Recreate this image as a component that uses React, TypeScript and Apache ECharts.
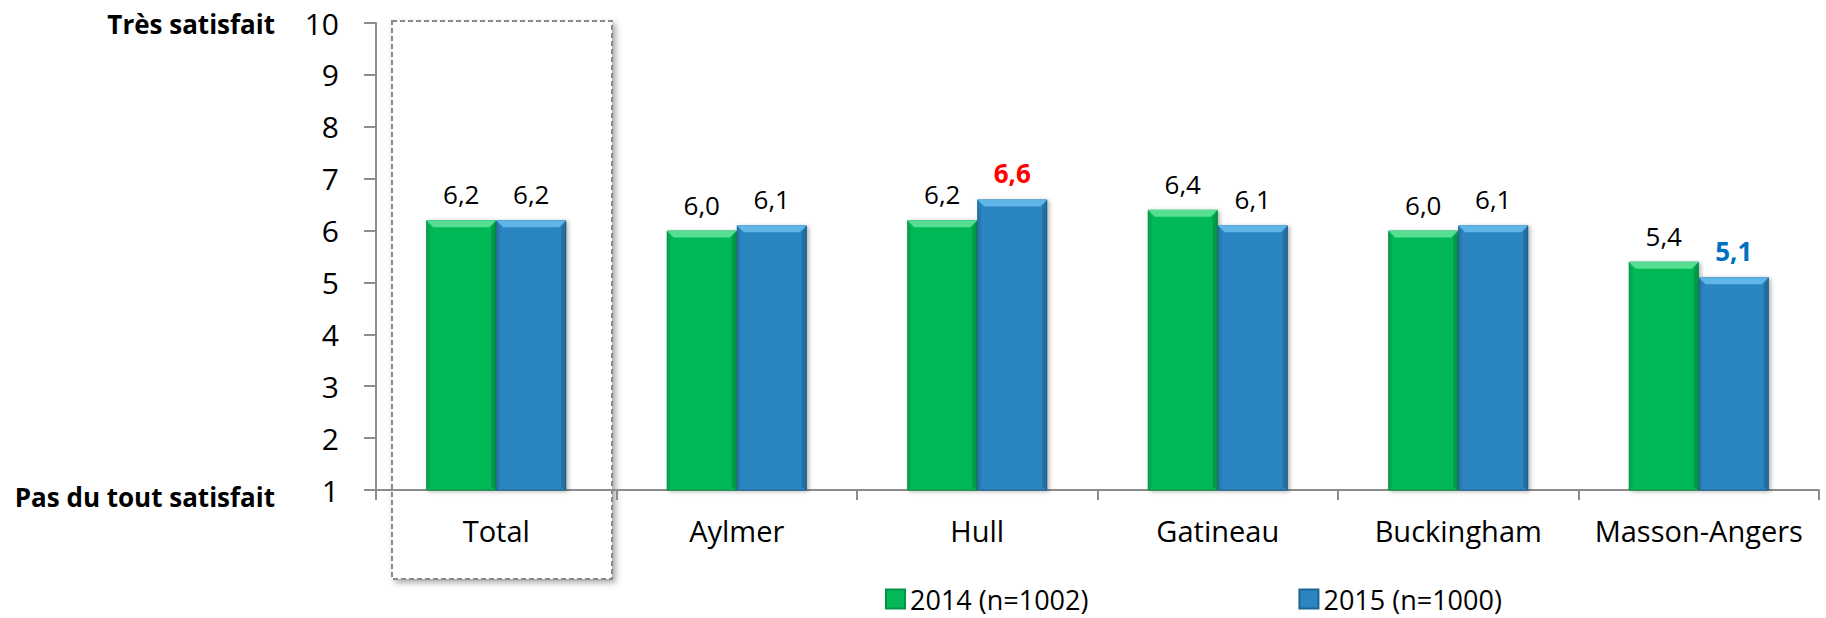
import React, { useEffect, useRef } from 'react';
import * as echarts from 'echarts';

// Satisfaction scores (1 = pas du tout satisfait, 10 = très satisfait)
const categories = ['Total', 'Aylmer', 'Hull', 'Gatineau', 'Buckingham', 'Masson-Angers'];
const values2014 = [6.2, 6.0, 6.2, 6.4, 6.0, 5.4];
const values2015 = [6.2, 6.1, 6.6, 6.1, 6.1, 5.1];
const seriesNames = ['2014 (n=1002)', '2015 (n=1000)'];
const yTicks = [1, 2, 3, 4, 5, 6, 7, 8, 9, 10];
const scaleTop = 'Très satisfait';
const scaleBottom = 'Pas du tout satisfait';
// 2015 labels shown in bold colour (category index -> colour)
const emphasis2015: Record<number, string> = { 2: '#FF0000', 5: '#0070C0' };

const FONT = "'Open Sans', 'Noto Sans', sans-serif";
const BAR_W = 70;
const Y_MIN = yTicks[0];
const Y_MAX = yTicks[yTicks.length - 1];

const palettes = [
  { base: '#06B957', border: '#049447', top: '#5FE39A' },
  { base: '#2A85C1', border: '#1D6496', top: '#66BDEB' },
];

const fmt = (v: number) => v.toFixed(1).replace('.', ',');

export default function App() {
  const ref = useRef<HTMLDivElement>(null);

  useEffect(() => {
    if (!ref.current) return;
    const chart = echarts.init(ref.current, undefined, { renderer: 'svg' });

    const bevelData: number[][] = [];
    [values2014, values2015].forEach((vals, s) => vals.forEach((v, i) => bevelData.push([i, v, s])));

    const barSeries = [values2014, values2015].map((vals, s) => ({
      name: seriesNames[s],
      type: 'bar',
      barWidth: BAR_W,
      barGap: '0%',
      z: 2,
      itemStyle: {
        color: palettes[s].base,
        borderColor: palettes[s].border,
        borderWidth: 1,
        shadowBlur: 4,
        shadowOffsetX: 2,
        shadowOffsetY: 1,
        shadowColor: 'rgba(0,0,0,0.3)',
      },
      label: {
        show: true,
        position: 'top',
        distance: 13,
        fontFamily: FONT,
        fontSize: 26,
        color: '#000',
        formatter: (p: any) => fmt(p.value),
      },
      data: vals.map((v, i) =>
        s === 1 && emphasis2015[i]
          ? { value: v, label: { color: emphasis2015[i], fontWeight: 'bold' } }
          : v
      ),
    }));

    const bevelSeries = {
      type: 'custom',
      z: 3,
      silent: true,
      renderItem: (_params: any, api: any) => {
        const cat = api.value(0);
        const val = api.value(1);
        const s = api.value(2);
        const top = api.coord([cat, val]);
        const base = api.coord([cat, Y_MIN]);
        const x0 = top[0] - BAR_W + s * BAR_W;
        const x1 = x0 + BAR_W;
        const y0 = top[1];
        const yb = base[1];
        const b = 7;
        return {
          type: 'group',
          children: [
            {
              type: 'polygon',
              shape: { points: [[x0, y0], [x1, y0], [x1 - b, y0 + b], [x0 + b, y0 + b]] },
              style: { fill: palettes[s].top, opacity: 0.9 },
            },
            {
              type: 'polygon',
              shape: { points: [[x1, y0], [x1, yb], [x1 - 5, yb - 3], [x1 - 5, y0 + b]] },
              style: { fill: 'rgba(0,0,0,0.16)' },
            },
            {
              type: 'polygon',
              shape: { points: [[x0, y0], [x0 + 4, y0 + b], [x0 + 4, yb - 3], [x0, yb]] },
              style: { fill: 'rgba(0,0,0,0.07)' },
            },
          ],
        };
      },
      data: bevelData,
    };

    chart.setOption({
      animation: false,
      backgroundColor: '#fff',
      textStyle: { fontFamily: FONT },
      grid: { left: 376, right: 7, top: 23, bottom: 128, containLabel: false },
      legend: {
        data: seriesNames,
        left: 885,
        top: 585,
        padding: 0,
        icon: 'rect',
        itemWidth: 19,
        itemHeight: 19,
        itemGap: 210,
        textStyle: { fontFamily: FONT, fontSize: 27, lineHeight: 28, color: '#000' },
      },
      xAxis: {
        type: 'category',
        data: categories,
        axisLine: { lineStyle: { color: '#8C8C8C', width: 2 } },
        axisTick: { show: true, length: 10, lineStyle: { color: '#8C8C8C', width: 2 } },
        axisLabel: { interval: 0, fontFamily: FONT, fontSize: 29, color: '#000', margin: 26 },
        splitLine: { show: false },
      },
      yAxis: {
        type: 'value',
        min: Y_MIN,
        max: Y_MAX,
        interval: 1,
        axisLine: { show: true, lineStyle: { color: '#8C8C8C', width: 2 } },
        axisTick: { show: true, length: 12, lineStyle: { color: '#8C8C8C', width: 2 } },
        axisLabel: { fontFamily: FONT, fontSize: 30, color: '#000', margin: 37 },
        splitLine: { show: false },
      },
      graphic: [
        {
          type: 'rect',
          z: -1,
          shape: { x: 392, y: 21, width: 220, height: 558 },
          style: {
            fill: '#fff',
            stroke: '#8A8A8A',
            lineWidth: 2,
            lineDash: [5, 3],
            shadowBlur: 6,
            shadowOffsetX: 3,
            shadowOffsetY: 3,
            shadowColor: 'rgba(0,0,0,0.35)',
          },
        },
        {
          type: 'text',
          x: 275,
          y: 24,
          style: {
            text: scaleTop,
            fontFamily: FONT,
            fontSize: 26,
            fontWeight: 'bold',
            fill: '#000',
            align: 'right',
            verticalAlign: 'middle',
          },
        },
        {
          type: 'text',
          x: 275,
          y: 497,
          style: {
            text: scaleBottom,
            fontFamily: FONT,
            fontSize: 26,
            fontWeight: 'bold',
            fill: '#000',
            align: 'right',
            verticalAlign: 'middle',
          },
        },
      ],
      series: [...barSeries, bevelSeries],
    });

    return () => chart.dispose();
  }, []);

  return (
    <div
      ref={ref}
      style={{ position: 'absolute', left: 0, top: 0, width: 1826, height: 618 }}
    />
  );
}
